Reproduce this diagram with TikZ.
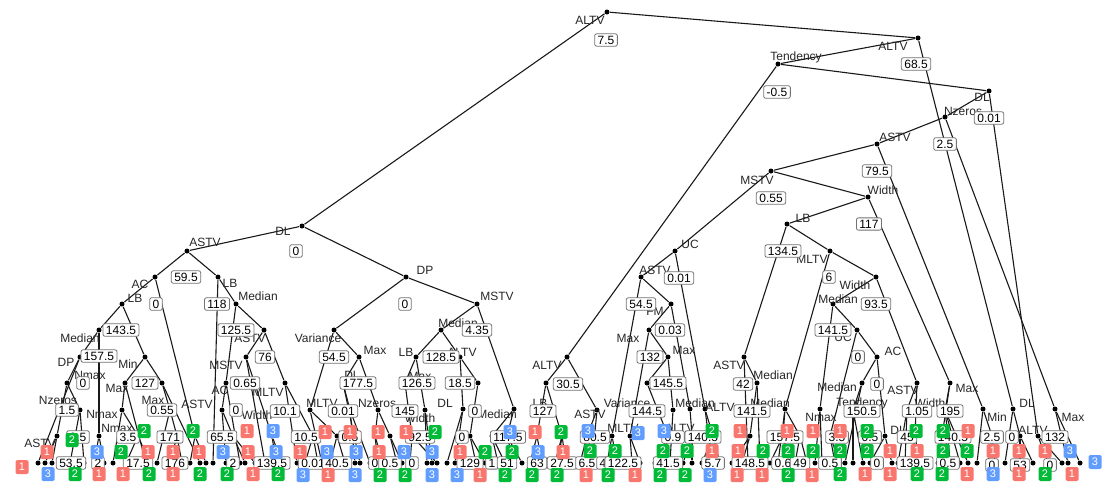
\documentclass[tikz,border=0pt]{standalone}
\usepackage{fontspec}
\setmainfont{Liberation Sans}
\usepackage{tikz}
\usetikzlibrary{positioning}
\definecolor{cred}{HTML}{F8766D}
\definecolor{cgreen}{HTML}{00BA38}
\definecolor{cblue}{HTML}{619CFF}

\begin{document}
\begin{tikzpicture}[
    x=1pt, y=-1pt,
    font=\fontsize{12}{12}\selectfont,
    line width=1.1pt
]
    % Styles for the tree
    \tikzstyle{split} = [circle, fill=black, inner sep=0pt, minimum size=5pt]
    \tikzstyle{varname} = [inner sep=0pt, text=black!85]
    \tikzstyle{cut} = [draw=black!55, rounded corners=2pt, fill=white, inner xsep=3pt, inner ysep=2pt, line width=0.8pt]
    \tikzstyle{leafbox} = [rounded corners=1.5pt, minimum width=13pt, minimum height=14pt, inner sep=0pt, text=white, font=\fontsize{11}{11}\selectfont]
    \tikzstyle{cl1} = [fill=cred]
    \tikzstyle{cl2} = [fill=cgreen]
    \tikzstyle{cl3} = [fill=cblue]

    \useasboundingbox (0,0) rectangle (1110,491);

    % Split points
    \foreach \n/\x/\y in {r/607/12, al2/918/38, te/778/64, dl2/989/91, nz/945/117, as3/877/144,
        ms/771/171, wi/868/197, lb2/787/224, dl1/302/226, as1/187/251, uc/675/251, ml/830/251,
        ac1/155/277, lb1/218/277, dp/406/277, as4/641/277, wi2/876/277, lb0/122/304, me1/236/304,
        ms2/477/304, fm/671/304, me3/833/304, me0/99/330, as2/264/330, va/334/330, me2/441/330,
        mx5/649/330, uc2/857/330, dp1/80/357, mi1/145/357, ms1/246/357, mx/359/357, lb3/416/357,
        al4/460/357, al3/567/357, mx6/668/357, as5/744/357, ac/877/357, nz1/67/383, mxa/125/383,
        mx1/162/383, ac2/226/383, ml1/285/383, dl3/343/383, mx8/405/383, md4/478/383, lb5/546/383,
        va2/647/383, me9/757/383, me4/862/383, as6/917/383, mx7/950/383, sp1/80/410, nm3/122/410,
        mx2/170/410, ac3/222/410, ml3/310/410, nzz/350/410, nz2/378/410, wd3/425/410, dl4/463/409,
        me5/514/409, as9/597/410, al6/673/410, me7/690/409, al5/705/409, me6/785/409, nmx/820/409,
        te2/853/410, t19/907/410, wd5/945/410, mnr/983/409, dlb/1013/409, mxr/1055/409,
        as0/57/436, nm2/99/436, mt1/138/436, mx3/177/436, as8/195/436, wd2/233/436, wd1/272/436,
        t1/313/436, t2/337/436, t3/375/436, t4/390/436, t5/412/436, t6/470/436, t7/492/436,
        t8/507/436, t9/537/436, t10/562/436, t11/587/436, ml6/612/436, va3/630/436, t13/668/436,
        t14/692/436, t15/713/436, t16/750/436, t17/783/436, t18/800/436, nd1/830/436, dl5/885/436,
        t20/915/436, t21/948/436, t22/992/436, t23/1020/436, al7/1038/436}
        \node [split] (\n) at (\x,\y) {};

    % Terminal points (all on the bottom row)
    \foreach \n/\x in {l1/38, l2/45, l3/52, l4/70, l5/84, l6/94, l7/104, l8/113, l9/126, l10/146,
        l11/150, l12/157, l13/170, l14/182, l15/190, l16/200, l17/206, l18/213, l19/226, l20/240,
        l21/245, l22/255, l23/265, l24/276, l25/282, l26/297, l27/305, l28/322, l29/318, l30/330,
        l31/345, l32/360, l33/355, l34/370, l35/378, l36/383, l37/397, l38/402, l39/410, l40/427,
        l41/432, l42/437, l43/447, l44/455, l45/476, l46/485, l47/498, l48/505, l49/514, l50/522,
        l51/530, l52/542, l53/555, l54/566, l55/558, l56/580, l57/592, l58/595, l59/607, l60/617,
        l61/632, l62/640, l63/655, l64/662, l65/670, l66/683, l67/692, l68/702, l69/712, l70/720,
        l71/732, l72/742, l73/748, l74/760, l75/770, l76/778, l77/790, l78/795, l79/807, l80/815,
        l81/822, l82/835, l83/840, l84/845, l85/853, l86/863, l87/870, l88/892, l89/898, l90/905,
        l91/912, l92/920, l93/938, l94/942, l95/950, l96/960, l97/968, l98/977, l99/988, l100/995,
        l101/1005, l102/1020, l103/1033, l104/1048, l105/1062, l106/1068, l107/1080}
        \node [split] (\n) at (\x,463) {};

    % Connections
    \foreach \a/\b in {r/dl1, r/al2, al2/te, al2/dlb, te/al3, te/dl2, dl2/nz, dl2/al7, nz/as3,
        nz/mxr, as3/ms, as3/mnr, ms/uc, ms/wi, wi/lb2, wi/mx7, lb2/as5, lb2/ml, ml/me6, ml/wi2,
        wi2/me3, wi2/as6,
        dl1/as1, dl1/dp, as1/ac1, as1/lb1, ac1/lb0, ac1/as8, lb0/me0, lb0/mi1, me0/dp1, me0/nm2,
        dp1/nz1, dp1/l1, nz1/as0, nz1/sp1, as0/l2, as0/l3, sp1/l4, sp1/l5, nm2/l6, nm2/l7,
        mi1/mxa, mi1/mx1, mxa/nm3, mxa/l10, nm3/l8, nm3/mt1, mt1/l9, mt1/l11, mx1/mx2, mx1/l16,
        mx2/l12, mx2/mx3, mx3/l13, mx3/l14, as8/l15, as8/l17, lb1/l18, lb1/me1, me1/ac2, me1/as2,
        ac2/ac3, ac2/l20, ac3/l19, ac3/wd2, wd2/l21, wd2/l22, as2/ms1, as2/ml1, ms1/wd1, ms1/l23,
        wd1/l24, wd1/l25,
        dp/va, dp/ms2, va/ml3, va/mx, ml3/l28, ml3/t2, t2/l30, t2/l31, ml1/l26, ml1/t1, t1/l27,
        t1/l29, mx/dl3, mx/nz2, dl3/nzz, dl3/l32, nzz/l33, nzz/l34, nz2/t3, nz2/t4, t3/l35, t3/l36,
        t4/l37, t4/l38, ms2/me2, ms2/me5, me2/lb3, me2/al4, lb3/mx8, lb3/wd3, mx8/t5, t5/l39,
        t5/l42, wd3/l40, wd3/l41, al4/dl4, al4/md4, dl4/l43, dl4/l44, md4/t6, t6/l45, t6/l46,
        me5/t7, me5/t8, t7/l47, t7/l48, t8/l49, t8/l50,
        al3/lb5, al3/as9, lb5/t9, lb5/t10, t9/l51, t9/l52, t10/l53, t10/l54, t10/l55, as9/t11,
        as9/l57, t11/l56, t11/l58, uc/as4, uc/al5, as4/ml6, as4/fm, ml6/l59, ml6/l60, fm/mx5,
        fm/me7, mx5/va3, mx5/mx6, va3/l61, va3/l62, mx6/va2, mx6/al6, va2/t13, t13/l63, t13/l64,
        al6/l65, me7/t14, t14/l66, t14/l67, al5/t15, al5/l69, t15/l68, t15/l70, as5/me9, as5/l73,
        me9/t16, me9/l74, t16/l71, t16/l72, me6/t17, me6/t18, me6/l76, t17/l75, t17/l77, t18/l78,
        t18/l79,
        me3/nmx, me3/uc2, nmx/l80, nmx/l81, uc2/nd1, uc2/ac, nd1/l82, nd1/l83, ac/me4, ac/dl5,
        me4/te2, me4/l84, te2/l85, te2/l86, dl5/l87, dl5/l88, as6/t19, as6/t20, t19/l89, t19/l90,
        t20/l91, t20/l92, mx7/wd5, mx7/l93, wd5/t21, wd5/l96, wd5/l97, t21/l94, t21/l95, mnr/l98,
        mnr/t22, t22/l99, t22/l100, dlb/l101, dlb/t23, t23/l102, t23/l103, al7/l104, al7/l105,
        mxr/l106, mxr/l107}
        \draw [black!90] (\a) -- (\b);

    % Split variables
    \foreach \t/\x/\y [count=\i] in {ALTV/590/20, ALTV/893/46, Tendency/796/57, DL/982/97,
        Nzeros/963/111, ASTV/895/137, MSTV/757/180, Width/883/190, LB/803/218, DL/283/231,
        ASTV/205/242, UC/690/244, MLTV/812/259, AC/140/284, LB/230/283, DP/425/270, ASTV/655/270,
        Width/855/285, LB/135/298, Median/258/296, MSTV/497/296, FM/655/311, Median/838/299,
        Median/80/338, ASTV/250/338, Variance/318/338, Median/458/323, Max/628/338, UC/843/337,
        DP/66/362, Min/128/364, MSTV/226/365, Max/375/350, LB/406/352, ALTV/462/352,
        ALTV/547/365, Max/684/350, ASTV/729/365, AC/893/351, Nzeros/58/400, Max/117/388,
        Max/153/400, AC/220/390, MLTV/268/392, DL/352/375, Max/420/376, Variance/627/403,
        Median/773/375, Median/837/387, ASTV/903/390, Max/967/388, Nmax/90/375, Nmax/117/428,
        MLTV/322/403, Nzeros/377/403, Width/420/418, DL/445/403, Median/497/414, LB/540/403,
        ASTV/590/414, ALTV/680/428, Median/695/403, ALTV/720/407, Median/770/403, Nmax/821/417,
        Tendency/862/403, Width/930/403, Min/997/417, DL/1027/403, Max/1073/417, ASTV/40/443,
        Nmax/102/414, ASTV/197/404, Width/257/415, MLTV/623/428, DL/898/430, ALTV/1033/430}
        \node [varname] (var\i) at (\x,\y) {\t};

    % Split values
    \foreach \v/\x/\y [count=\i] in {7.5/606/40, 68.5/916/64, -0.5/777/92, 0.01/989/118,
        2.5/945/144, 79.5/877/171, 0.55/771/198, 117/869/224, 134.5/783/251, 0/296/251,
        59.5/186/277, 0.01/679/278, 6/829/277, 0/156/304, 118/217/304, 0/405/304, 54.5/641/304,
        93.5/876/304, 143.5/121/330, 125.5/236/330, 4.35/477/330, 0.03/670/330, 141.5/833/330,
        157.5/99/356, 76/265/357, 54.5/334/357, 128.5/441/357, 132/650/357, 0/858/357, 0/83/383,
        127/145/383, 0.65/245/383, 177.5/358/383, 126.5/417/383, 18.5/460/383, 30.5/568/384,
        145.5/668/383, 42/743/384, 0/877/384, 1.5/67/410, 0.55/162/410, 0/236/410, 10.1/285/411,
        0.01/343/411, 145/405/411, 0/475/411, 127/543/411, 144.5/647/411, 141.5/752/411,
        150.5/862/411, 1.05/917/411, 195/950/411, 2.5/78/437, 3.5/128/437, 171/170/437,
        65.5/222/437, 10.5/306/437, 0.5/350/437, 92.5/420/437, 0/462/437, 117.5/508/437,
        80.5/595/437, 0.9/673/437, 140.5/703/437, 157.5/785/437, 3.5/837/437, 0.5/870/437,
        45/907/437, 140.5/953/437, 2.5/992/437, 0/1012/437, 132/1055/437, 53.5/71/463, 2/98/463,
        17.5/138/463, 176/175/463, 2/233/463, 139.5/272/463, 0.01/313/463, 40.5/337/463,
        0/375/463, 0.5/390/463, 0/412/463, 129/470/463, 1/492/463, 51/507/463, 63/537/463,
        27.5/562/463, 6.5/587/463, 4/603/463, 122.5/623/463, 41.5/668/463, 5.7/713/463,
        148.5/750/463, 0.6/783/463, 49/800/463, 0.5/830/463, 0/877/463, 139.5/915/463,
        0.5/948/463, 0/992/465, 53/1020/465, 0/1050/465}
        \node [cut] (cut\i) at (\x,\y) {\v};

    % Class labels of the terminal nodes
    \foreach \x/\y/\c [count=\i] in {22/467/1, 47/452/1, 48/474/3, 72/440/2, 75/474/2, 97/452/3,
        99/474/1, 121/452/2, 123/474/1, 144/431/2, 148/452/1, 149/474/2, 173/452/1, 173/474/1,
        193/431/2, 199/452/1, 200/474/2, 223/452/3, 227/474/2, 247/431/1, 248/452/1, 253/474/1,
        273/431/3, 276/452/3, 278/474/2, 300/452/1, 303/475/3, 325/432/1, 327/452/3, 328/475/1,
        350/432/1, 356/452/3, 355/475/3, 378/432/1, 379/452/1, 380/475/2, 406/432/1, 404/452/3,
        405/475/2, 435/432/2, 432/452/3, 432/475/3, 460/452/1, 457/475/3, 480/475/1, 485/452/2,
        505/475/2, 510/432/3, 512/452/2, 532/475/2, 535/432/1, 538/452/3, 561/432/2, 563/452/1,
        557/475/2, 586/475/1, 588/431/3, 590/451/2, 608/475/2, 615/451/2, 635/475/1, 638/433/3,
        660/475/2, 663/451/2, 664/431/3, 685/475/2, 687/451/2, 710/475/3, 712/431/2, 712/451/1,
        737/475/1, 738/451/1, 740/431/1, 762/475/1, 763/451/2, 787/431/1, 788/451/2, 788/475/2,
        812/475/1, 813/431/1, 813/451/2, 840/431/1, 840/451/2, 840/474/2, 865/474/1, 867/431/2,
        867/451/2, 890/451/1, 890/474/1, 916/431/2, 917/451/1, 917/474/2, 943/431/2, 943/451/2,
        942/474/2, 968/431/1, 967/451/2, 967/474/1, 993/451/1, 993/474/3, 1019/451/1, 1019/474/1,
        1045/451/1, 1045/474/2, 1070/451/3, 1072/474/1, 1095/462/3}
        \node [leafbox, cl\c] (class\i) at (\x,\y) {\c};

\end{tikzpicture}
\end{document}
